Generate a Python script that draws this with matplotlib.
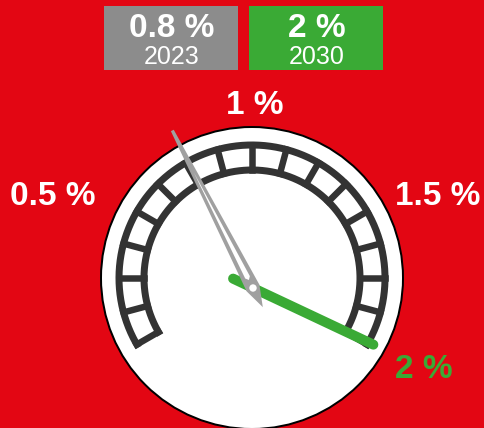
import numpy as np
import matplotlib
matplotlib.use("Agg")
import matplotlib.pyplot as plt
from matplotlib.patches import Circle, Rectangle, Polygon

# data
current_value = 0.8
current_year = "2023"
target_value = 2.0
target_year = "2030"
scale_labels = [0.5, 1.0, 1.5, 2.0]
scale_min, scale_max = 0.0, 2.0
n_cells = 16

RED = "#e30613"
GREY_BOX = "#8c8c8c"
GREEN = "#3aaa35"
DARK = "#333333"
NEEDLE = "#a0a0a0"

plt.rcParams["font.family"] = ["Liberation Sans", "DejaVu Sans"]

fig = plt.figure(figsize=(4.85, 4.28), dpi=100, facecolor=RED)
ax = fig.add_axes([0, 0, 1, 1])
ax.set_xlim(0, 485)
ax.set_ylim(428, 0)
ax.set_facecolor(RED)
ax.axis("off")

px2pt = 72 / 100
cx, cy = 252, 278      # dial centre
pvx, pvy = 253, 288    # needle pivot


def ring_angle(v):
    # 0 % at 210 deg, 2 % at -30 deg
    return np.radians(210 - 240 * (v - scale_min) / (scale_max - scale_min))


def needle_angle(v):
    return np.radians(212 - 118.6 * v)


def pt(x0, y0, r, a):
    return x0 + r * np.cos(a), y0 - r * np.sin(a)


# dial face
ax.add_patch(Circle((cx, cy), 151, fc="white", ec="black", lw=2 * px2pt, zorder=1))

# ring: outer and inner arc plus dividers
r_in, r_out = 108, 133
for r in (r_in, r_out):
    ext = 3.5 / r
    a = np.linspace(ring_angle(scale_min) + ext, ring_angle(scale_max) - ext, 200)
    x, y = pt(cx, cy, r, a)
    ax.plot(x, y, color=DARK, lw=7 * px2pt, solid_capstyle="butt", zorder=2)
for v in np.linspace(scale_min, scale_max, n_cells + 1):
    a = ring_angle(v)
    x0, y0 = pt(cx, cy, r_in, a)
    x1, y1 = pt(cx, cy, r_out, a)
    ax.plot([x0, x1], [y0, y1], color=DARK, lw=6.5 * px2pt,
            solid_capstyle="projecting", zorder=2)

# scale labels
for v in scale_labels:
    a = ring_angle(v)
    c = np.cos(a)
    x, y = pt(cx, cy, 173, a)
    if abs(c) < 0.1:
        ha, x = "center", x + 3
    else:
        ha, x, y = ("right" if c < 0 else "left"), x - 7, y + 5
    col = GREEN if v == target_value else "white"
    ax.text(x, y, f"{v:g} %", ha=ha, va="center", color=col,
            fontsize=24, fontweight="bold", zorder=5)

# target needle (green)
a = needle_angle(target_value)
x0, y0 = pt(pvx, pvy, -22, a)
x1, y1 = pt(pvx, pvy, 133, a)
ax.plot([x0, x1], [y0, y1], color=GREEN, lw=10 * px2pt,
        solid_capstyle="round", zorder=3)

# current needle (grey)
a = needle_angle(current_value)
ux, uy = np.cos(a), -np.sin(a)
wx, wy = -uy, ux


def local(u, w):
    return (pvx + u * ux + w * wx, pvy + u * uy + w * wy)


outer = [local(177, 1.6), local(0, 7.2), local(-21.5, 0), local(0, -7.2), local(177, -1.6)]
ax.add_patch(Polygon(outer, closed=True, fc=NEEDLE, ec="none", zorder=4))
gap = [local(130, 0), local(12, 2.6), local(9, 0), local(12, -2.6)]
ax.add_patch(Polygon(gap, closed=True, fc="white", ec="none", zorder=4))
ax.add_patch(Circle((pvx, pvy), 3.7, fc="white", ec="none", zorder=5))

# value boxes
boxes = [(104, GREY_BOX, current_value, current_year),
         (249, GREEN, target_value, target_year)]
for x0, col, val, yr in boxes:
    ax.add_patch(Rectangle((x0, 5.5), 134, 64.5, fc=col, ec="none", zorder=1))
    ax.text(x0 + 67.5, 37, f"{val:g} %", ha="center", va="baseline",
            color="white", fontsize=24, fontweight="bold", zorder=5)
    ax.text(x0 + 67.5, 63.5, yr, ha="center", va="baseline",
            color="white", fontsize=18, zorder=5)

fig.savefig("out.png", dpi=100, facecolor=RED)
